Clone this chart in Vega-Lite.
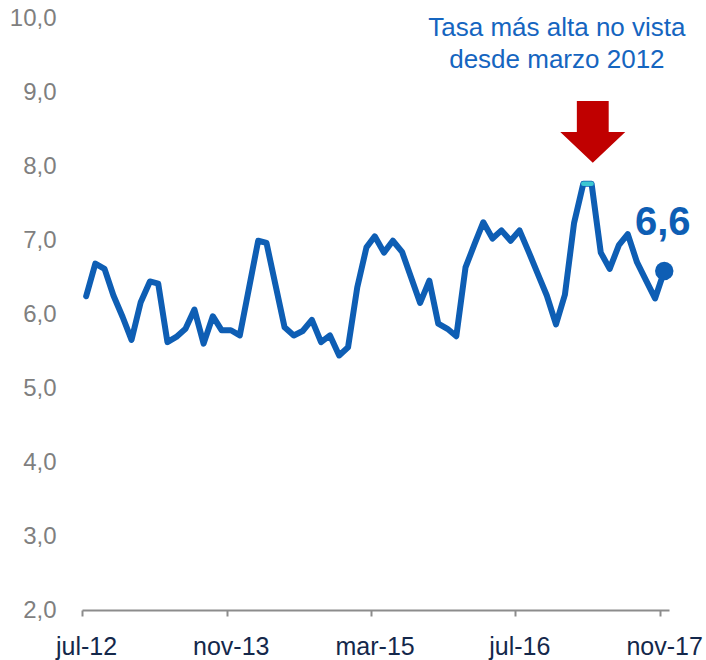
{
  "$schema": "https://vega.github.io/schema/vega-lite/v6.json",
  "width": 587,
  "height": 592,
  "autosize": {"type": "none"},
  "padding": {"left": 82, "top": 18, "right": 37, "bottom": 50},
  "background": "white",
  "config": {"view": {"stroke": null}, "font": "Liberation Sans"},
  "datasets": {
    "series": [
      {"month": "2012-07-15", "rate": 6.24},
      {"month": "2012-08-15", "rate": 6.68},
      {"month": "2012-09-15", "rate": 6.61},
      {"month": "2012-10-15", "rate": 6.25},
      {"month": "2012-11-15", "rate": 5.96},
      {"month": "2012-12-15", "rate": 5.65},
      {"month": "2013-01-15", "rate": 6.16},
      {"month": "2013-02-15", "rate": 6.44},
      {"month": "2013-03-15", "rate": 6.41},
      {"month": "2013-04-15", "rate": 5.62},
      {"month": "2013-05-15", "rate": 5.69},
      {"month": "2013-06-15", "rate": 5.80},
      {"month": "2013-07-15", "rate": 6.06},
      {"month": "2013-08-15", "rate": 5.60},
      {"month": "2013-09-15", "rate": 5.97},
      {"month": "2013-10-15", "rate": 5.78},
      {"month": "2013-11-15", "rate": 5.78},
      {"month": "2013-12-15", "rate": 5.71},
      {"month": "2014-01-15", "rate": 6.35},
      {"month": "2014-02-15", "rate": 6.99},
      {"month": "2014-03-15", "rate": 6.96},
      {"month": "2014-04-15", "rate": 6.38},
      {"month": "2014-05-15", "rate": 5.82},
      {"month": "2014-06-15", "rate": 5.71},
      {"month": "2014-07-15", "rate": 5.77},
      {"month": "2014-08-15", "rate": 5.92},
      {"month": "2014-09-15", "rate": 5.62},
      {"month": "2014-10-15", "rate": 5.71},
      {"month": "2014-11-15", "rate": 5.44},
      {"month": "2014-12-15", "rate": 5.55},
      {"month": "2015-01-15", "rate": 6.36},
      {"month": "2015-02-15", "rate": 6.90},
      {"month": "2015-03-15", "rate": 7.05},
      {"month": "2015-04-15", "rate": 6.83},
      {"month": "2015-05-15", "rate": 6.99},
      {"month": "2015-06-15", "rate": 6.84},
      {"month": "2015-07-15", "rate": 6.50},
      {"month": "2015-08-15", "rate": 6.15},
      {"month": "2015-09-15", "rate": 6.45},
      {"month": "2015-10-15", "rate": 5.87},
      {"month": "2015-11-15", "rate": 5.80},
      {"month": "2015-12-15", "rate": 5.70},
      {"month": "2016-01-15", "rate": 6.63},
      {"month": "2016-02-15", "rate": 6.95},
      {"month": "2016-03-15", "rate": 7.24},
      {"month": "2016-04-15", "rate": 7.02},
      {"month": "2016-05-15", "rate": 7.13},
      {"month": "2016-06-15", "rate": 6.99},
      {"month": "2016-07-15", "rate": 7.13},
      {"month": "2016-08-15", "rate": 6.84},
      {"month": "2016-09-15", "rate": 6.54},
      {"month": "2016-10-15", "rate": 6.25},
      {"month": "2016-11-15", "rate": 5.86},
      {"month": "2016-12-15", "rate": 6.26},
      {"month": "2017-01-15", "rate": 7.23},
      {"month": "2017-02-15", "rate": 7.76},
      {"month": "2017-03-15", "rate": 7.76},
      {"month": "2017-04-15", "rate": 6.83},
      {"month": "2017-05-15", "rate": 6.61},
      {"month": "2017-06-15", "rate": 6.93},
      {"month": "2017-07-15", "rate": 7.08},
      {"month": "2017-08-15", "rate": 6.70},
      {"month": "2017-09-15", "rate": 6.45},
      {"month": "2017-10-15", "rate": 6.21},
      {"month": "2017-11-15", "rate": 6.58}
    ],
    "peak": [
      {"month": "2017-02-15", "rate": 7.76},
      {"month": "2017-03-15", "rate": 7.76}
    ],
    "last": [
      {"month": "2017-11-15", "rate": 6.58}
    ],
    "arrow": [
      {"month": "2017-03-19", "rate": 8.46}
    ],
    "note": [
      {"month": "2016-11-18", "rate": 9.76, "label": "Tasa más alta no vista\ndesde marzo 2012"}
    ],
    "value": [
      {"month": "2017-11-10", "rate": 7.23, "label": "6,6"}
    ]
  },
  "layer": [
    {
      "data": {"name": "series"},
      "mark": {"type": "line", "color": "#0E5EB4", "strokeWidth": 6, "strokeCap": "round", "strokeJoin": "round"},
      "encoding": {
        "x": {
          "field": "month", "type": "temporal",
          "scale": {"domain": [{"year": 2012, "month": 7, "date": 1}, {"year": 2017, "month": 12, "date": 1}]},
          "axis": {
            "title": null,
            "values": [
              {"year": 2012, "month": 7, "date": 1},
              {"year": 2013, "month": 11, "date": 1},
              {"year": 2015, "month": 3, "date": 1},
              {"year": 2016, "month": 7, "date": 1},
              {"year": 2017, "month": 11, "date": 1}
            ],
            "labelExpr": "lower(timeFormat(datum.value, '%b-%y'))",
            "grid": false,
            "domainColor": "#8C8C8C", "domainWidth": 2,
            "tickColor": "#8C8C8C", "tickWidth": 2, "tickSize": 6,
            "labelFontSize": 25, "labelColor": "#14284B", "labelFont": "Liberation Sans",
            "labelPadding": 18, "labelOffset": 4, "labelBaseline": "top",
            "labelOverlap": false, "labelFlush": false
          }
        },
        "y": {
          "field": "rate", "type": "quantitative",
          "scale": {"domain": [2, 10], "nice": false, "zero": false},
          "axis": {
            "title": null,
            "values": [2, 3, 4, 5, 6, 7, 8, 9, 10],
            "labelExpr": "replace(format(datum.value, '.1f'), '.', ',')",
            "domain": false, "ticks": false, "tickSize": 0, "grid": false,
            "labelFontSize": 24, "labelColor": "#7F7F7F", "labelFont": "Liberation Sans",
            "labelPadding": 26, "labelBaseline": "middle"
          }
        }
      }
    },
    {
      "data": {"name": "peak"},
      "mark": {"type": "line", "color": "#3CC8D2", "strokeWidth": 4.5, "strokeCap": "round"},
      "encoding": {
        "x": {"field": "month", "type": "temporal"},
        "y": {"field": "rate", "type": "quantitative"}
      }
    },
    {
      "data": {"name": "last"},
      "mark": {"type": "point", "filled": true, "color": "#0E5EB4", "opacity": 1, "size": 340},
      "encoding": {
        "x": {"field": "month", "type": "temporal"},
        "y": {"field": "rate", "type": "quantitative"}
      }
    },
    {
      "data": {"name": "arrow"},
      "mark": {"type": "point", "filled": true, "color": "#C00000", "opacity": 1, "size": 4225, "strokeWidth": 0,
               "shape": "M-0.49,-0.95L0.49,-0.95L0.49,0L1,0L0,0.95L-1,0L-0.49,0Z"},
      "encoding": {
        "x": {"field": "month", "type": "temporal"},
        "y": {"field": "rate", "type": "quantitative"}
      }
    },
    {
      "data": {"name": "note"},
      "mark": {"type": "text", "align": "center", "baseline": "alphabetic", "lineBreak": "\n", "lineHeight": 32,
               "fontSize": 26, "color": "#1565C0", "font": "Liberation Sans"},
      "encoding": {
        "x": {"field": "month", "type": "temporal"},
        "y": {"field": "rate", "type": "quantitative"},
        "text": {"field": "label"}
      }
    },
    {
      "data": {"name": "value"},
      "mark": {"type": "text", "align": "center", "baseline": "middle",
               "fontSize": 40, "fontWeight": "bold", "color": "#0E5EB4", "font": "Liberation Sans"},
      "encoding": {
        "x": {"field": "month", "type": "temporal"},
        "y": {"field": "rate", "type": "quantitative"},
        "text": {"field": "label"}
      }
    }
  ]
}
